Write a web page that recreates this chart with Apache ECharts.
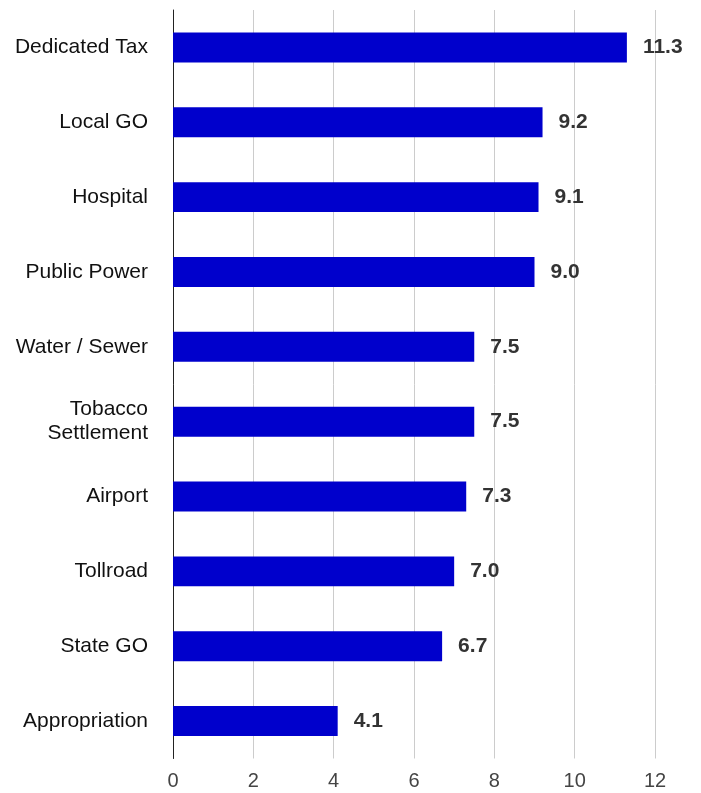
<!DOCTYPE html>
<html><head><meta charset="utf-8">
<script src="https://cdn.jsdelivr.net/npm/echarts@6/dist/echarts.min.js"></script>
<style>html,body{margin:0;padding:0;background:#fff}#c{width:701px;height:793px}</style>
</head><body><div id="c"></div>
<script>
const categories = ["Dedicated Tax","Local GO","Hospital","Public Power","Water / Sewer","Tobacco\nSettlement","Airport","Tollroad","State GO","Appropriation"];
const values = [11.3, 9.2, 9.1, 9.0, 7.5, 7.5, 7.3, 7.0, 6.7, 4.1];
const xTicks = [0, 2, 4, 6, 8, 10, 12];

const chart = echarts.init(document.getElementById('c'));
chart.setOption({
  animation: false,
  grid: {left: 173, right: 46, top: 10, bottom: 34.5, containLabel: false},
  xAxis: {
    type: 'value', min: xTicks[0], max: xTicks[xTicks.length-1], interval: 2,
    axisLine: {show: false}, axisTick: {show: false},
    splitLine: {show: true, lineStyle: {color: '#cccccc', width: 1}},
    axisLabel: {color: '#444', fontFamily: 'Liberation Sans', fontSize: 20, margin: 13}
  },
  yAxis: {
    type: 'category', data: categories, inverse: true,
    axisLine: {show: true, lineStyle: {color: '#222', width: 1}},
    axisTick: {show: false},
    axisLabel: {color: '#111', fontFamily: 'Liberation Sans', fontSize: 21, margin: 25, lineHeight: 24, align: 'right'}
  },
  series: [{
    type: 'bar', data: values, barWidth: '40%',
    itemStyle: {color: '#0000cc'},
    label: {show: true, position: 'right', distance: 16, formatter: p => p.value.toFixed(1),
      color: '#333', fontFamily: 'Liberation Sans', fontSize: 21, fontWeight: 'bold'}
  }]
});
</script></body></html>
